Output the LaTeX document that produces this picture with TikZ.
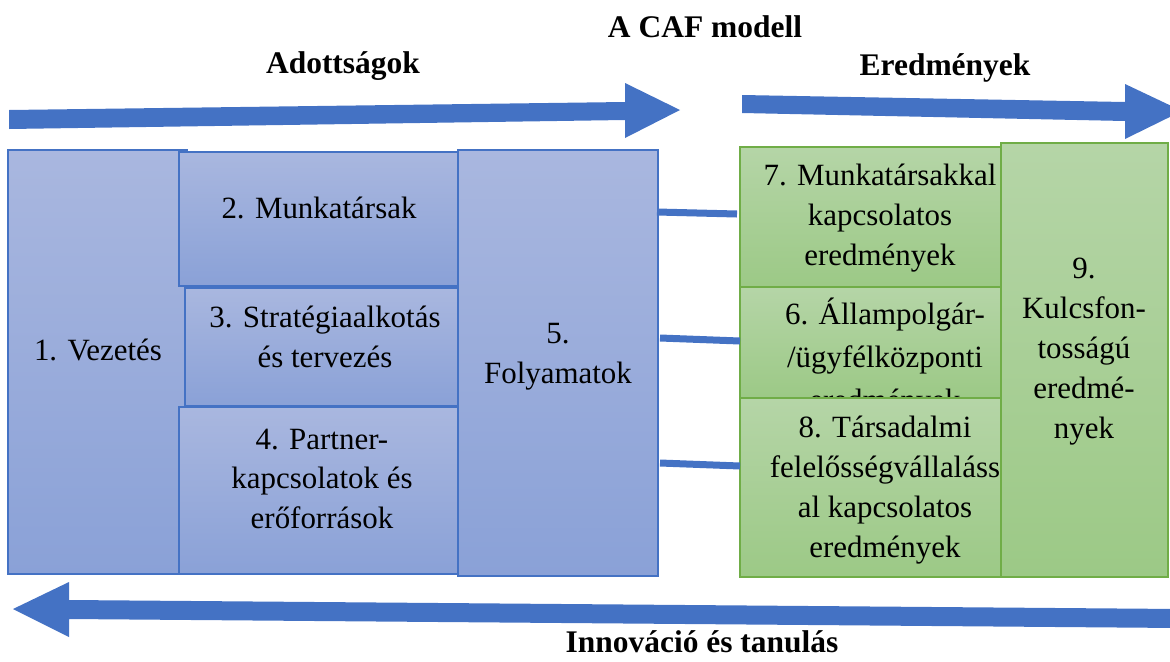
\documentclass[tikz,border=0pt]{standalone}
\usepackage{fontspec}
\setmainfont{Liberation Serif}
\usetikzlibrary{fit}
\definecolor{arrowblue}{HTML}{4472C4}
\definecolor{bluetop}{HTML}{A9B7DF}
\definecolor{bluebot}{HTML}{8AA1D7}
\definecolor{bluedraw}{HTML}{4472C4}
\definecolor{greentop}{HTML}{B5D5A7}
\definecolor{greenbot}{HTML}{9CC986}
\definecolor{greendraw}{HTML}{70AD47}
\tikzset{
  bbox/.style={draw=bluedraw, line width=1pt, top color=bluetop, bottom color=bluebot, inner sep=0pt, outer sep=0pt},
  gbox/.style={draw=greendraw, line width=1pt, top color=greentop, bottom color=greenbot, inner sep=0pt, outer sep=0pt},
  txt/.style={anchor=base, align=center, inner sep=0pt, font=\fontsize{23.2}{29.6}\selectfont},
  gtxt/.style={anchor=base, align=center, inner sep=0pt, font=\fontsize{23.2}{30}\selectfont},
  ttl/.style={anchor=base, inner sep=0pt, font=\fontsize{23.6}{28}\selectfont\bfseries},
  conn/.style={draw=arrowblue, line width=5.25pt},
  bigarrow/.style={fill=arrowblue}
}
\begin{document}
\begin{tikzpicture}[x=0.75pt,y=-0.75pt]
\useasboundingbox (0,0) rectangle (1170,661);
\begin{scope}
\clip (0,0) rectangle (1170,661);
% titles
\node[ttl] (caf) at (705,37) {A CAF modell};
\node[ttl] (adott) at (343,73) {Adottságok};
\node[ttl] (ered) at (945,75) {Eredmények};
\node[ttl] (innov) at (702,652) {Innováció és tanulás};
% big arrows
\fill[bigarrow] (9,110) -- (625,102) -- (625,83) -- (680,110) -- (625,138) -- (625,120) -- (9,129) -- cycle;
\fill[bigarrow] (742,95) -- (1125,102) -- (1125,84) -- (1182,111) -- (1125,139) -- (1125,121) -- (742,113) -- cycle;
\fill[bigarrow] (1180,609) -- (69,600) -- (69,582) -- (13,609) -- (69,637) -- (69,619) -- (1180,628) -- cycle;
% enablers
\node[bbox, fit={(8,150) (187,574)}] (b1) {};
\node[txt] (t1) at (98,360) {1. Vezetés};
\node[bbox, fit={(179,152) (458,286)}] (b2) {};
\node[txt] (t2) at (319,218) {2. Munkatársak};
\node[bbox, fit={(185,288) (458,406)}] (b3) {};
\node[txt] (t3) at (325,367) {3. Stratégiaalkotás\\és tervezés};
\node[bbox, fit={(179,407) (458,574)}] (b4) {};
\node[txt] (t4) at (322,528) {4. Partner-\\kapcsolatok és\\erőforrások};
\node[bbox, fit={(458,150) (658,576)}] (b5) {};
\node[txt] (t5) at (558,383) {5.\\Folyamatok};
% results
\node[gbox, fit={(740,147) (1026,287)}] (b7) {};
\node[gtxt] (t7) at (880,265) {7. Munkatársakkal\\kapcsolatos\\eredmények};
\node[gbox, fit={(740,287) (1026,398)}] (b6) {};
\node[gtxt, font=\fontsize{23.2}{32}\selectfont] (t6) at (885,410) {6. Állampolgár-\\/ügyfélközponti\\eredmények};
\node[gbox, fit={(740,398) (1026,577)}] (b8) {};
\node[gtxt] (t8) at (885,557) {8. Társadalmi\\felelősségvállaláss\\al kapcsolatos\\eredmények};
\node[gbox, fit={(1001,143) (1168,577)}] (b9) {};
\node[gtxt] (t9) at (1084,438) {9.\\Kulcsfon-\\tosságú\\eredmé-\\nyek};
% connectors
\coordinate (c1a) at (657,212); \coordinate (c1b) at (737,214);
\coordinate (c2a) at (660,338); \coordinate (c2b) at (740,341);
\coordinate (c3a) at (660,463); \coordinate (c3b) at (740,466);
\draw[conn] (c1a) -- (c1b);
\draw[conn] (c2a) -- (c2b);
\draw[conn] (c3a) -- (c3b);
\end{scope}
\end{tikzpicture}
\end{document}
